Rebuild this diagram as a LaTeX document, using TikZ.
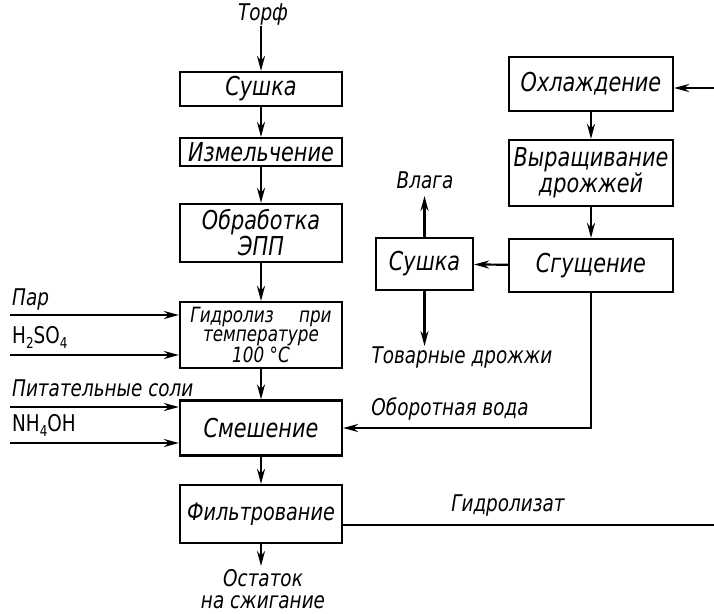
\documentclass[tikz,border=0pt]{standalone}
\usepackage{fontspec}
\setmainfont{DejaVu Sans}[FakeStretch=0.8]
\usetikzlibrary{arrows.meta}
\tikzset{
  box/.style={draw, line width=2.2pt, inner sep=0pt, align=center, font=\itshape\fontsize{26}{26}\selectfont},
  lbl/.style={inner sep=0pt, align=center, font=\itshape\fontsize{23}{22}\selectfont},
  flow/.style={line width=2.2pt, -{Stealth[length=15pt,width=8pt]}},
  plain/.style={line width=2.2pt}
}
\begin{document}
\begin{tikzpicture}[x=1pt,y=-1pt]
\useasboundingbox (0,0) rectangle (714,613);
% left column
\node[lbl] (torf) at (263,15) {Торф};
\node[box, minimum width=162, minimum height=34] (dry1) at (261,89) {Сушка};
\node[box, minimum width=162, minimum height=28] (mill) at (261,152) {Измельчение};
\node[box, minimum width=162, minimum height=58] (epp) at (261,233) {Обработка\\ЭПП};
\node[box, minimum width=162, minimum height=66, font=\itshape\fontsize{21}{19.5}\selectfont] (hyd) at (261,335) {Гидролиз\hspace{1.2em}при\\температуре\\100 °С};
\node[box, minimum width=162, minimum height=55] (mix) at (261,428) {Смешение};
\node[box, minimum width=162, minimum height=58, font=\itshape\fontsize{24}{24}\selectfont] (filt) at (261,514) {Фильтрование};
\node[lbl] (rest) at (263,589) {Остаток\\на сжигание};
% right column
\node[box, minimum width=164, minimum height=54] (cool) at (591,84) {Охлаждение};
\node[box, minimum width=164, minimum height=66] (grow) at (591,173) {Выращивание\\дрожжей};
\node[box, minimum width=164, minimum height=53] (thick) at (591,265.5) {Сгущение};
\node[box, minimum width=97, minimum height=52] (dry2) at (424.5,264) {Сушка};
\node[lbl] (moist) at (425,180) {Влага};
\node[lbl] (yeast) at (462,358) {Товарные дрожжи};
% left inputs
\node[lbl, anchor=west] (par) at (12,300) {Пар};
\node[inner sep=0pt, anchor=west, font=\fontsize{23}{23}\selectfont] (h2so4) at (12,337) {H\raisebox{-5pt}{\fontsize{15}{15}\selectfont 2}SO\raisebox{-5pt}{\fontsize{15}{15}\selectfont 4}};
\node[lbl, anchor=west] (salts) at (12,388) {Питательные соли};
\node[inner sep=0pt, anchor=west, font=\fontsize{23}{23}\selectfont] (nh4oh) at (12,425) {NH\raisebox{-5pt}{\fontsize{15}{15}\selectfont 4}OH};
\coordinate (parS) at (10,315);
\coordinate (h2S) at (10,355);
\coordinate (salS) at (10,407);
\coordinate (nhS) at (10,443);
\draw[flow] (parS) -- (parS -| hyd.west);
\draw[flow] (h2S) -- (h2S -| hyd.west);
\draw[flow] (salS) -- (salS -| mix.west);
\draw[flow] (nhS) -- (nhS -| mix.west);
% main flow
\draw[flow] (torf.south -| dry1.north) -- (dry1.north);
\draw[flow] (dry1) -- (mill);
\draw[flow] (mill) -- (epp);
\draw[flow] (epp) -- (hyd);
\draw[flow] (hyd) -- (mix);
\draw[flow] (mix) -- (filt);
\coordinate (restEnd) at (261,566);
\draw[flow] (filt.south) -- (restEnd);
% right flow
\coordinate (coolIn) at (714,88);
\draw[flow] (coolIn) -- (coolIn -| cool.east);
\draw[flow] (cool) -- (grow);
\draw[flow] (grow) -- (thick);
\draw[flow] (thick) -- (dry2);
\coordinate (moistEnd) at (424.5,196);
\draw[flow] (dry2.north) -- (moistEnd);
\coordinate (yeastEnd) at (424.5,346);
\draw[flow] (dry2.south) -- (yeastEnd);
% recycle water
\coordinate (bend) at (591,428);
\draw[flow] (thick.south) -- (bend) -- (mix.east);
\node[lbl] (water) at (450,409) {Оборотная вода};
% hydrolysate
\coordinate (hydOut) at (714,525);
\draw[plain] (hydOut -| filt.east) -- (hydOut);
\node[lbl] (hydlbl) at (508,506) {Гидролизат};
\end{tikzpicture}
\end{document}
